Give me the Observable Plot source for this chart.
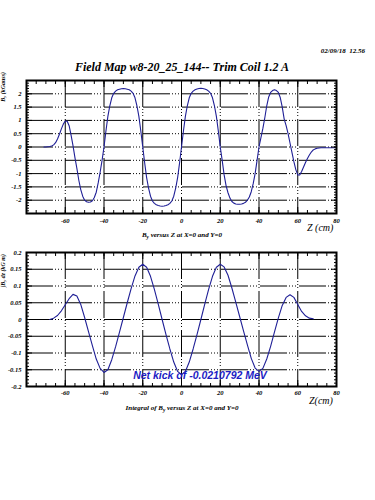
<!DOCTYPE html>
<html>
<head>
<meta charset="utf-8">
<script src="https://cdn.jsdelivr.net/npm/d3@7"></script>
<script src="https://cdn.jsdelivr.net/npm/@observablehq/plot@0.6"></script>
<style>
  html, body { margin: 0; padding: 0; background: #fff; }
  #root { position: relative; width: 375px; height: 500px; overflow: hidden; background: #fff; }
  .t { position: absolute; white-space: nowrap; font-family: "Liberation Serif", serif; font-style: italic; font-weight: bold; color: #000; line-height: 1; }
  .t sub { font-size: 75%; vertical-align: -0.35em; line-height: 0; }
  .v { writing-mode: vertical-rl; transform: rotate(180deg); }
  .panel { position: absolute; left: 0; }
</style>
</head>
<body>
<div id="root">
  <div class="t" style="right:10px; top:48px; font-size:7px;">02/09/18&nbsp;&nbsp;12.56</div>
  <div class="t" style="left:0; width:364px; text-align:center; top:61px; font-size:12px;">Field Map w8-20_25_144-- Trim Coil 1.2 A</div>
  <div class="t v" style="left:0px; top:72px; font-size:6px;">B<sub>y</sub> (kGauss)</div>
  <div class="t" style="left:0; width:364px; text-align:center; top:232px; font-size:7px;">B<sub>y</sub> versus Z at X=0 and Y=0</div>
  <div class="t" style="left:307px; top:223px; font-size:10px; font-weight:normal;">Z (cm)</div>
  <div class="t v" style="left:0px; top:254px; font-size:6px;">&#8747;B<sub>y</sub> dz (kG m)</div>
  <div class="t" style="left:309px; top:396px; font-size:10px; font-weight:normal;">Z(cm)</div>
  <div class="t" style="left:0; width:364px; text-align:center; top:405px; font-size:7px;">Integral of B<sub>y</sub> versus Z at X=0 and Y=0</div>
  <div class="t" style="left:0; width:400px; text-align:center; top:370px; font-size:10.5px; font-family:'Liberation Sans',sans-serif; color:#1c1cc4;">Net kick of -0.0210792 MeV</div>
</div>
<script>
// ---- data ----
const zField = [
  -71,-70,-69,-68,-67,-66,-65,-64,-63,-62,-61,-60,-59,-58,-57,-56,-55,-54,-53,-52,-51,-50,-49,-48,-47,-46,-45,-44,-43,-42,-41,
  -40,-39,-38,-37,-36,-35,-34,-33,-32,-31,-30,-29,-28,-27,-26,-25,-24,-23,-22,-21,
  -20,-19,-18,-17,-16,-15,-14,-13,-12,-11,-10,-9,-8,-7,-6,-5,-4,-3,-2,-1,
  0,1,2,3,4,5,6,7,8,9,10,11,12,13,14,15,16,17,18,19,
  20,21,22,23,24,25,26,27,28,29,30,31,32,33,34,35,36,37,38,39,
  40,41,42,43,44,45,46,47,48,49,50,51,52,53,54,55,56,57,58,59,
  60,61,62,63,64,65,66,67,68,69,70,71,72,73,74,75,76,77,78,79,80
];
const byField = [
  0,0,0.01,0.02,0.04,0.08,0.16,0.3,0.48,0.68,0.86,0.98,0.97,0.8,0.45,0.05,-0.4,-0.8,-1.25,-1.6,-1.85,-2.0,-2.06,-2.08,-2.07,-2.02,-1.9,-1.7,-1.35,-0.95,-0.5,
  0,0.6,1.15,1.55,1.85,2.02,2.1,2.15,2.17,2.19,2.2,2.19,2.17,2.15,2.1,2.02,1.85,1.55,1.15,0.6,
  0,-0.6,-1.15,-1.55,-1.85,-2.03,-2.12,-2.17,-2.2,-2.22,-2.23,-2.22,-2.2,-2.17,-2.12,-2.03,-1.85,-1.55,-1.15,-0.6,
  0,0.6,1.15,1.55,1.85,2.02,2.1,2.15,2.18,2.2,2.21,2.2,2.18,2.15,2.1,2.02,1.85,1.55,1.15,0.6,
  0,-0.5,-1.05,-1.45,-1.72,-1.92,-2.05,-2.11,-2.14,-2.15,-2.15,-2.14,-2.12,-2.08,-2.0,-1.88,-1.68,-1.38,-1.0,-0.5,
  0,0.35,0.7,1.1,1.55,1.88,2.05,2.12,2.15,2.12,2.05,1.85,1.5,1.05,0.8,0.5,0.15,-0.2,-0.55,-0.85,
  -1.05,-1.05,-0.92,-0.75,-0.58,-0.43,-0.3,-0.19,-0.11,-0.07,-0.05,-0.04,-0.03,-0.03,-0.03,-0.03,-0.03,-0.03,-0.03,-0.03,-0.03
];
const zInt = [
  -68,-66,-64,-62,-60,-58,-56,-54,-52,-50,-48,-46,-44,-42,-40,-38,-36,-34,-32,-30,-28,-26,-24,-22,
  -20,-18,-16,-14,-12,-10,-8,-6,-4,-2,0,2,4,6,8,10,12,14,16,18,
  20,22,24,26,28,30,32,34,36,38,40,42,44,46,48,50,52,54,56,58,60,62,64,66,68
];
const byInt = [
  0,0.004,0.012,0.026,0.044,0.062,0.075,0.07,0.045,0.006,-0.036,-0.078,-0.118,-0.146,-0.158,-0.15,-0.12,-0.081,-0.038,0.006,0.05,0.092,0.13,0.156,
  0.165,0.156,0.129,0.09,0.046,0.0,-0.045,-0.088,-0.127,-0.155,-0.165,-0.155,-0.127,-0.088,-0.045,0.0,0.046,0.09,0.129,0.156,
  0.165,0.157,0.132,0.094,0.052,0.009,-0.034,-0.076,-0.116,-0.145,-0.155,-0.146,-0.118,-0.08,-0.037,0.005,0.042,0.066,0.074,0.066,0.045,0.024,0.011,0.004,0.002
];
const xTickLabels = [-60,-40,-20,0,20,40,60,80];
const yTickLabelsTop = [2,1.5,1,0.5,0,-0.5,-1,-1.5,-2];
const yTickLabelsBottom = [0.2,0.15,0.1,0.05,0,-0.05,-0.1,-0.15,-0.2];

// ---- drawing ----
const lineColor = "#1f1f96";
const dash = "27,2,1,2,1,2,1,3";
const xMinor = d3.range(-80, 80.1, 5);
const xMajor = d3.range(-80, 80.1, 20);
const xGrid = [-60,-40,-20,0,20,40,60];

function panel({data, yDomain, yLabels, yMinor, top, mTop, innerH, mBottom, padX}) {
  const yGrid = yLabels.filter(v => v > yDomain[0] && v < yDomain[1]);
  const p = Plot.plot({
    width: 375,
    height: mTop + innerH + mBottom,
    marginLeft: 26, marginRight: 39, marginTop: mTop, marginBottom: mBottom,
    style: {fontFamily: "Liberation Serif", fontSize: "6.5px", fontStyle: "italic", fontWeight: "bold", background: "transparent", overflow: "visible"},
    x: {domain: [-80, 80]},
    y: {domain: yDomain},
    marks: [
      Plot.gridX(xGrid, {stroke: "black", strokeOpacity: 1, strokeWidth: 1, strokeDasharray: dash}),
      Plot.gridY(yGrid, {stroke: "black", strokeOpacity: 1, strokeWidth: 1, strokeDasharray: dash}),
      Plot.line(data, {x: "z", y: "b", stroke: lineColor, strokeWidth: 1.1}),
      Plot.frame({stroke: "black", strokeWidth: 2}),
      Plot.axisX(xMinor, {anchor: "top", tickSize: -3, tickFormat: () => "", label: null}),
      Plot.axisX(xMajor, {anchor: "top", tickSize: -6, tickFormat: () => "", label: null}),
      Plot.axisX(xMinor, {anchor: "bottom", tickSize: -3, tickFormat: () => "", label: null}),
      Plot.axisX(xMajor, {anchor: "bottom", tickSize: -6, tickFormat: () => "", label: null}),
      Plot.axisX(xTickLabels, {anchor: "bottom", tickSize: 0, tickPadding: padX, tickFormat: d => String(d), label: null}),
      Plot.axisY(yMinor, {anchor: "left", tickSize: -3, tickFormat: () => "", label: null}),
      Plot.axisY(yLabels, {anchor: "left", tickSize: -6, tickFormat: () => "", label: null}),
      Plot.axisY(yMinor, {anchor: "right", tickSize: -3, tickFormat: () => "", label: null}),
      Plot.axisY(yLabels, {anchor: "right", tickSize: -6, tickFormat: () => "", label: null}),
      Plot.axisY(yLabels, {anchor: "left", tickSize: 0, tickPadding: 5, tickFormat: d => String(d), label: null})
    ]
  });
  p.classList.add("panel");
  p.style.top = top + "px";
  p.style.position = "absolute";
  p.style.left = "0px";
  document.getElementById("root").appendChild(p);
}

const fieldData = zField.map((z, i) => ({z, b: byField[i]}));
const intData = zInt.map((z, i) => ({z, b: byInt[i]}));

panel({
  data: fieldData, yDomain: [-2.5, 2.5], yLabels: yTickLabelsTop,
  yMinor: d3.range(-2.5, 2.501, 0.1).map(v => +v.toFixed(2)),
  top: 70, mTop: 10, innerH: 133, mBottom: 16, padX: 5
});
panel({
  data: intData, yDomain: [-0.2, 0.2], yLabels: yTickLabelsBottom,
  yMinor: d3.range(-0.2, 0.2001, 0.01).map(v => +v.toFixed(3)),
  top: 242, mTop: 10, innerH: 134, mBottom: 14, padX: 4
});
// keep text labels above svg panels
const root = document.getElementById("root");
Array.from(root.querySelectorAll(".t")).forEach(el => root.appendChild(el));
</script>
</body>
</html>
